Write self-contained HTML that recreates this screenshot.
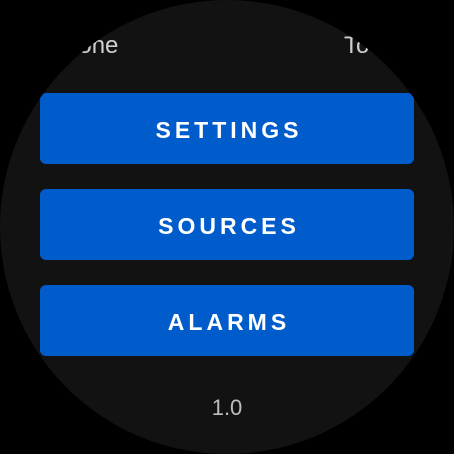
<!DOCTYPE html>
<html><head><style>
html,body{margin:0;padding:0;background:#000;width:454px;height:454px;overflow:hidden}
.c{position:absolute;left:0;top:0;width:454px;height:454px;border-radius:50%;background:#121212;overflow:hidden;font-family:"Liberation Sans",sans-serif}
.h{position:absolute;top:32px;font-size:24px;color:#cfcfcf;font-weight:300;line-height:28px}
.b{position:absolute;left:40px;width:374px;height:71px;background:#005ccb;border-radius:6px;color:#fff;font-weight:bold;font-size:23px;letter-spacing:4px;text-align:center;line-height:75px;box-sizing:border-box;padding-left:4px}
.v{position:absolute;top:395px;width:454px;text-align:center;color:#bdbdbd;font-size:22px;line-height:26px}
</style></head><body>
<div class="c">
<div class="h" style="left:49px">Phone</div>
<div class="h" style="left:344px">Total</div>
<div class="b" style="top:93px">SETTINGS</div>
<div class="b" style="top:189px">SOURCES</div>
<div class="b" style="top:285px">ALARMS</div>
<div class="v">1.0</div>
</div>
</body></html>
